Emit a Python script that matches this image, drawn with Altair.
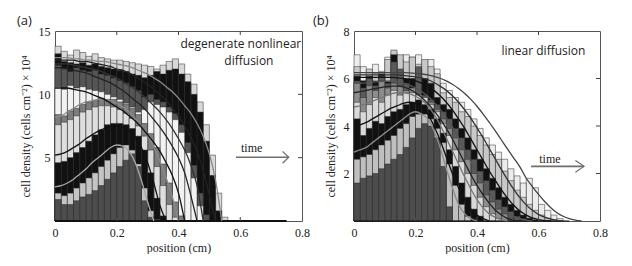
import altair as alt
import pandas as pd

BIN_W = 0.02       # histogram bin width (cm)
CURVE_DX = 0.02    # spacing of model-curve samples (cm)

# ---------------- panel (a): degenerate nonlinear diffusion ----------------
hist_a_t0 = [1.7,1.3,1.3,1.6,1.9,2.1,2.4,2.8,3.3,3.8,4.3,4.8,5.3,4.3,1.6,0.3]
hist_a_t1 = [2.2,2.0,2.2,2.6,3.0,3.4,3.8,4.3,4.8,5.3,5.8,6.0,5.6,4.5,2.6,0.8,0.1]
hist_a_t2 = [4.6,4.7,5.0,5.4,5.8,6.3,6.8,7.2,7.6,7.7,7.7,7.6,7.3,6.7,5.6,3.8,1.8,0.4]
hist_a_t3 = [7.6,7.8,8.0,8.3,8.6,8.8,9.0,9.1,9.1,9.0,8.8,8.5,8.1,7.5,6.7,5.6,4.3,2.8,1.3,0.3]
hist_a_t4 = [8.4,8.3,8.7,8.9,9.2,9.4,9.5,9.7,9.6,9.6,9.4,9.2,8.9,8.4,7.7,6.9,5.8,4.5,3.0,1.5,0.4]
hist_a_t5 = [10.6,10.4,10.7,10.5,10.6,10.4,10.3,10.2,10.0,9.8,9.6,9.3,9.0,8.6,8.8,9.4,9.2,9.0,8.6,8.0,7.0,5.4,3.4,1.2]
hist_a_t6 = [12.3,12.0,11.8,12.1,11.9,11.8,11.9,11.6,11.5,11.3,11.1,10.9,10.6,10.3,9.8,10.0,9.6,9.4,9.0,8.5,7.6,6.2,4.4,2.2,0.5]
hist_a_t7 = [13.2,12.6,12.5,12.4,12.5,12.3,12.4,12.2,12.1,12.0,11.9,11.8,11.6,11.5,11.3,11.5,11.8,11.6,11.9,12.0,11.6,11.0,10.0,8.6,6.3,3.6,0.8]
hist_a_t8 = [13.8,13.4,13.1,13.5,13.3,13.0,13.2,12.9,12.8,12.7,12.7,12.6,12.5,12.4,12.3,12.2,12.0,12.3,12.6,12.8,12.4,11.6,10.8,9.4,7.6,5.2,2.2,0.3]
hist_a = [hist_a_t0, hist_a_t1, hist_a_t2, hist_a_t3, hist_a_t4,
          hist_a_t5, hist_a_t6, hist_a_t7, hist_a_t8]
hist_a_colors = ["#4d4d4d", "#c4c4c4", "#111111", "#dedede", "#7d7d7d",
                 "#f2f2f2", "#555555", "#111111", "#d8d8d8"]

curve_a_1 = [2.7,2.8,3.0,3.3,3.7,4.1,4.6,5.0,5.4,5.8,6.0,5.9,5.5,4.6,3.2,1.5,0]
curve_a_2 = [5.2,5.3,5.5,5.8,6.1,6.5,6.8,7.1,7.3,7.5,7.5,7.4,7.1,6.6,5.8,4.6,3.0,1.2,0]
curve_a_3 = [8.2,8.3,8.6,8.9,9.2,9.4,9.5,9.6,9.6,9.5,9.3,9.0,8.6,8.1,7.5,6.7,5.8,4.7,3.4,1.9,0]
curve_a_4 = [10.5,10.5,10.5,10.4,10.3,10.2,10.0,9.8,9.6,9.3,9.0,8.7,8.3,7.9,7.4,6.8,6.2,5.5,4.6,3.6,2.2,0]
curve_a_5 = [12.1,12.1,12.0,11.9,11.8,11.7,11.5,11.3,11.1,10.9,10.6,10.3,9.9,9.5,9.1,8.6,8.0,7.4,6.7,5.9,5.0,3.8,2.0,0]
curve_a_6 = [12.4,12.4,12.4,12.3,12.2,12.1,12.0,11.9,11.7,11.5,11.3,11.0,10.7,10.4,10.0,9.6,9.1,8.6,8.0,7.3,6.5,5.6,4.4,2.8,0]
curve_a_7 = [12.7,12.7,12.7,12.7,12.6,12.6,12.5,12.4,12.3,12.2,12.0,11.9,11.7,11.4,11.1,10.8,10.4,10.0,9.5,8.9,8.3,7.5,6.6,5.5,4.0,2.0,0]
curve_a_8 = [12.9,12.9,12.9,12.8,12.8,12.7,12.7,12.6,12.6,12.5,12.4,12.3,12.2,12.0,11.8,11.6,11.3,11.0,10.6,10.2,9.7,9.1,8.5,7.7,6.7,5.3,3.2,0]
curves_a = [curve_a_1, curve_a_2, curve_a_3, curve_a_4,
            curve_a_5, curve_a_6, curve_a_7, curve_a_8]
curve_a_colors = ["#a8a8a8", "#111111", "#8a8a8a", "#111111",
                  "#222222", "#333333", "#222222", "#888888"]

# ---------------- panel (b): linear diffusion ----------------
hist_b_t0 = [1.6,1.8,1.9,2.0,2.2,2.4,2.6,2.8,3.1,3.5,3.9,4.1,4.0,3.5,2.3,0.6]
hist_b_t1 = [2.6,2.7,2.8,3.0,3.2,3.4,3.6,3.9,4.1,4.4,4.5,4.5,4.3,3.9,3.3,2.4,1.5,0.7,0.2]
hist_b_t2 = [4.3,3.6,3.9,4.2,4.1,4.4,4.6,4.7,4.9,5.0,5.1,4.9,4.7,4.3,3.7,3.0,2.3,1.6,1.0,0.5,0.2]
hist_b_t3 = [5.0,4.6,4.9,5.2,5.0,5.3,5.5,5.3,5.4,5.4,5.3,5.2,4.9,4.6,4.1,3.6,3.0,2.5,2.0,1.5,1.0,0.6,0.3,0.1]
hist_b_t4 = [5.8,5.2,5.7,5.5,5.9,5.6,5.8,5.7,5.5,5.6,5.3,5.2,5.0,4.7,4.3,3.9,3.5,3.0,2.6,2.0,1.6,1.1,0.8,0.5,0.3,0.1]
hist_b_t5 = [5.9,5.6,6.0,5.7,6.1,5.8,6.7,6.4,5.8,5.6,6.5,5.3,5.1,4.9,4.6,4.3,3.9,3.5,3.0,2.6,2.1,1.7,1.3,0.9,0.6,0.4,0.2,0.1]
hist_b_t6 = [6.1,5.9,6.1,5.9,6.2,5.9,7.0,6.3,6.0,6.0,6.4,6.0,5.8,5.2,4.9,4.7,4.3,3.9,3.5,3.0,2.6,2.2,1.8,1.4,1.0,0.7,0.45,0.25,0.12,0.05]
hist_b_t7 = [6.5,5.9,6.4,6.2,6.1,6.8,7.2,7.0,6.7,6.9,6.6,6.8,6.5,6.2,5.4,5.2,5.0,4.6,4.4,4.0,3.6,3.2,2.8,2.6,2.1,1.7,1.3,1.0,0.7,0.45,0.25,0.12,0.05]
hist_b_t8 = [7.0,6.5,6.1,6.6,6.3,6.9,7.1,6.8,7.0,6.9,7.0,6.5,6.8,6.4,5.8,5.5,5.2,5.0,4.7,4.3,3.9,3.5,3.2,2.9,2.6,2.2,1.9,1.6,1.8,1.4,0.7,0.45,0.25,0.1]
hist_b = [hist_b_t0, hist_b_t1, hist_b_t2, hist_b_t3, hist_b_t4,
          hist_b_t5, hist_b_t6, hist_b_t7, hist_b_t8]
hist_b_colors = ["#4d4d4d", "#bfbfbf", "#111111", "#d9d9d9", "#8c8c8c",
                 "#5a5a5a", "#111111", "#c8c8c8", "#ececec"]

curve_b_1 = [2.9,3.0,3.1,3.3,3.5,3.7,3.9,4.1,4.3,4.5,4.6,4.5,4.3,3.8,3.1,2.2,1.4,0.7,0.3,0.1,0]
curve_b_2 = [4.0,4.05,4.15,4.3,4.45,4.6,4.75,4.85,4.95,5.0,4.95,4.8,4.5,4.0,3.4,2.7,2.0,1.4,0.9,0.5,0.25,0.1,0]
curve_b_3 = [4.8,4.85,4.95,5.05,5.15,5.25,5.35,5.4,5.4,5.35,5.25,5.1,4.85,4.5,4.05,3.5,2.95,2.4,1.85,1.35,0.9,0.55,0.3,0.15,0.05,0]
curve_b_4 = [5.4,5.45,5.5,5.55,5.6,5.65,5.68,5.68,5.65,5.55,5.4,5.2,4.95,4.65,4.3,3.9,3.45,2.95,2.45,1.95,1.5,1.1,0.75,0.45,0.25,0.1,0.03,0]
curve_b_5 = [5.8,5.8,5.82,5.85,5.87,5.88,5.88,5.85,5.8,5.72,5.6,5.45,5.25,5.0,4.7,4.35,3.95,3.5,3.0,2.5,2.05,1.6,1.2,0.85,0.55,0.35,0.2,0.1,0.04,0]
curve_b_6 = [6.05,6.05,6.05,6.05,6.05,6.05,6.05,6.03,6.0,5.95,5.9,5.8,5.68,5.5,5.27,5.0,4.68,4.3,3.9,3.45,3.0,2.55,2.1,1.7,1.3,0.95,0.65,0.42,0.25,0.13,0.06,0.02,0]
curve_b_7 = [6.15,6.15,6.15,6.15,6.15,6.15,6.15,6.15,6.13,6.1,6.07,6.02,5.95,5.83,5.68,5.5,5.27,5.0,4.68,4.32,3.92,3.5,3.05,2.6,2.15,1.72,1.32,0.97,0.68,0.45,0.28,0.16,0.08,0.03,0]
curve_b_8 = [6.25,6.25,6.25,6.25,6.25,6.25,6.25,6.25,6.25,6.24,6.22,6.19,6.15,6.09,6.01,5.9,5.76,5.58,5.37,5.12,4.83,4.5,4.15,3.78,3.4,3.02,2.64,2.27,1.8,1.45,1.12,0.82,0.56,0.35,0.2,0.1,0.04,0]
curves_b = [curve_b_1, curve_b_2, curve_b_3, curve_b_4,
            curve_b_5, curve_b_6, curve_b_7, curve_b_8]
curve_b_colors = ["#8c8c8c", "#111111", "#777777", "#222222",
                  "#555555", "#111111", "#333333", "#444444"]

# ---------------- axes / annotations ----------------
x_ticks = [0, 0.2, 0.4, 0.6, 0.8]
y_ticks_a = [5, 10, 15]
y_ticks_b = [2, 4, 6, 8]
inner_x_ticks = [0.2, 0.4, 0.6]
inner_y_ticks_a = [5, 10]
inner_y_ticks_b = [2, 4, 6]

note_a_text = ["degenerate nonlinear", "diffusion"]
note_a_x = [0.602, 0.628]
note_a_y = [13.94, 12.6]
note_b_text = ["linear diffusion"]
note_b_x = [0.616]
note_b_y = [7.16]

time_a = {"x": [0.637], "y": [5.77]}
time_b = {"x": [0.637], "y": [2.63]}
arrow_a = {"x": [0.586], "x2": [0.757], "y": [5.03]}
arrow_b = {"x": [0.576], "x2": [0.748], "y": [2.3]}
chev_a = {"x": [0.737, 0.757, 0.737], "y": [5.5, 5.03, 4.56], "k": [0, 1, 2]}
chev_b = {"x": [0.720, 0.748, 0.720], "y": [2.55, 2.3, 2.05], "k": [0, 1, 2]}
base_a = {"x": [0.0], "x2": [0.75], "y": [0.0]}
base_b = {"x": [0.0], "x2": [0.70], "y": [0.0]}

Y_TITLE = "cell density (cells cm\u207b\u00b2) \u00d7 10\u2074"
SERIF = "Liberation Serif"
SANS = "Open Sans"
H = 190


def hist_table(series, colors):
    rows = []
    for i, vals in enumerate(series):
        for j, v in enumerate(vals):
            rows.append({"t": i, "x": round(j * BIN_W, 4),
                         "x2": round((j + 1) * BIN_W, 4), "y": v, "y0": 0.0,
                         "col": colors[i]})
    return pd.DataFrame(rows).sort_values("t", ascending=False)


def curve_table(series, colors):
    rows = []
    for i, vals in enumerate(series):
        for j, v in enumerate(vals):
            rows.append({"c": i, "x": round(j * CURVE_DX, 4), "y": v, "col": colors[i]})
    return pd.DataFrame(rows)


def panel(hist, hcols, curves, ccols, ymax, yticks, iyticks, notes, tm, arr, chev,
          base, label, W, lab_dx, base_w):
    xs = alt.Scale(domain=[0, 0.8], nice=False, zero=False)
    ys = alt.Scale(domain=[0, ymax], nice=False, zero=False)
    x_axis = alt.Axis(values=x_ticks, format="~g", title="position (cm)",
                      labelPadding=6, titlePadding=4, labelFlush=False)
    y_axis = alt.Axis(values=yticks, title=Y_TITLE, labelPadding=5,
                      titlePadding=6, labelFlush=False)

    def X(f="x"):
        return alt.X(f"{f}:Q", scale=xs, axis=x_axis)

    def Y(f="y"):
        return alt.Y(f"{f}:Q", scale=ys, axis=y_axis, stack=None)

    bars = alt.Chart(hist_table(hist, hcols)).mark_rect(
        stroke="#2a2a2a", strokeWidth=0.5).encode(
        x=X(), x2="x2:Q", y=Y(), y2="y0:Q",
        color=alt.Color("col:N", scale=None),
        order=alt.Order("t:Q", sort="descending"))

    baseline = alt.Chart(pd.DataFrame(base)).mark_rule(
        color="#111", strokeWidth=base_w).encode(x=X(), x2="x2:Q", y=Y())

    lines = alt.Chart(curve_table(curves, ccols)).mark_line(
        interpolate="monotone", strokeWidth=1.3).encode(
        x=X(), y=Y(), detail="c:N", color=alt.Color("col:N", scale=None),
        order="x:Q")

    tick_b = alt.Chart(pd.DataFrame({"x": inner_x_ticks})).mark_rule(
        color="#444").encode(x=X(), y=alt.value(H), y2=alt.value(H - 4))
    tick_t = alt.Chart(pd.DataFrame({"x": inner_x_ticks})).mark_rule(
        color="#444").encode(x=X(), y=alt.value(0), y2=alt.value(4))
    tick_r = alt.Chart(pd.DataFrame({"y": iyticks})).mark_rule(
        color="#444").encode(y=Y(), x=alt.value(W), x2=alt.value(W - 4))

    note = alt.Chart(pd.DataFrame(notes)).mark_text(
        font=SANS, fontSize=12, color="#222", align="center",
        baseline="middle").encode(x=X(), y=Y(), text="text:N")

    time_txt = alt.Chart(pd.DataFrame(dict(tm, text=["time"]))).mark_text(
        font=SERIF, fontSize=12, color="#222", align="center",
        baseline="middle").encode(x=X(), y=Y(), text="text:N")

    arrow = alt.Chart(pd.DataFrame(arr)).mark_rule(
        color="#6e6e6e", strokeWidth=1.6).encode(x=X(), x2="x2:Q", y=Y())
    chevron = alt.Chart(pd.DataFrame(chev)).mark_line(
        color="#6e6e6e", strokeWidth=1.2).encode(x=X(), y=Y(), order="k:Q")

    lab = alt.Chart(pd.DataFrame({"text": [label]})).mark_text(
        font=SANS, fontSize=13, color="#222", align="left",
        baseline="middle").encode(x=alt.value(lab_dx), y=alt.value(-10),
                                  text="text:N")

    return alt.layer(bars, baseline, lines, tick_b, tick_t, tick_r, note,
                     time_txt, arrow, chevron, lab).properties(width=W, height=H)


pa = panel(hist_a, hist_a_colors, curves_a, curve_a_colors, 15, y_ticks_a,
           inner_y_ticks_a,
           {"text": note_a_text, "x": note_a_x, "y": note_a_y},
           time_a, arrow_a, chev_a, base_a, "(a)", 247, -38, 2.2)
pb = panel(hist_b, hist_b_colors, curves_b, curve_b_colors, 8, y_ticks_b,
           inner_y_ticks_b,
           {"text": note_b_text, "x": note_b_x, "y": note_b_y},
           time_b, arrow_b, chev_b, base_b, "(b)", 246, -41, 1.0)

chart = alt.hconcat(pa, pb, spacing=52, bounds="flush").properties(
    padding={"left": 8, "top": 6, "right": 0, "bottom": 0},
    background="white",
).configure_axis(
    labelFont=SERIF, labelFontSize=12, labelColor="#222",
    titleFont=SERIF, titleFontSize=12, titleFontWeight="normal",
    titleColor="#222", ticks=False, domain=False, grid=False,
).configure_view(stroke="#555", strokeWidth=1)

chart.save("out.html", embed_options={"renderer": "svg", "actions": False})
